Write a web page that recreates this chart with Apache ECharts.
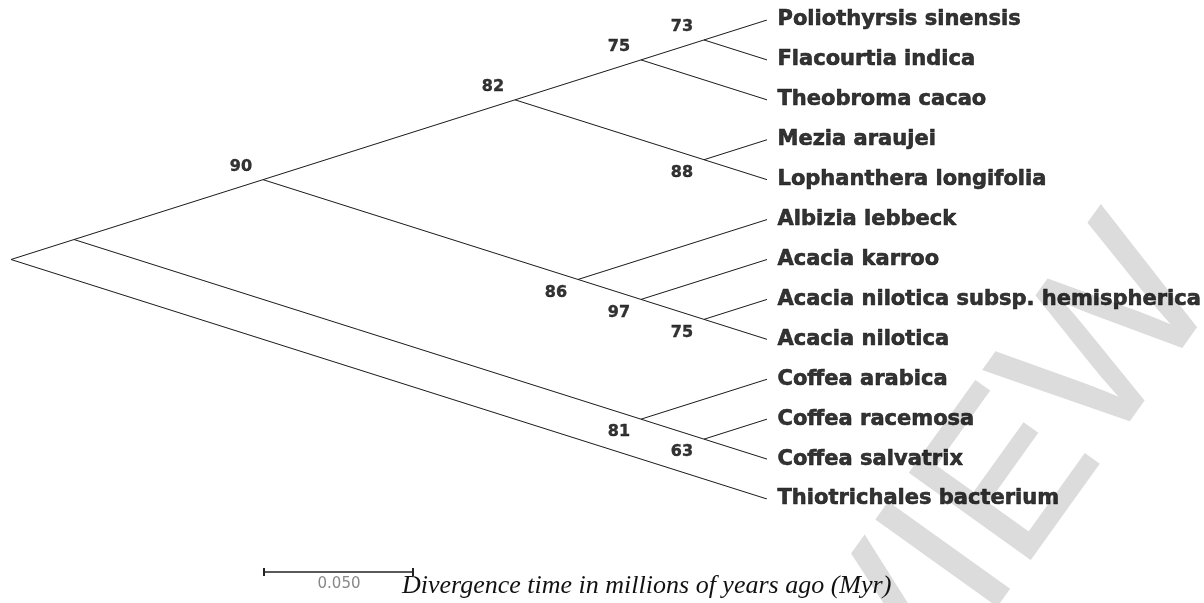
<!DOCTYPE html>
<html>
<head>
<meta charset="utf-8">
<title>Divergence tree</title>
<script src="https://cdn.jsdelivr.net/npm/echarts@6/dist/echarts.min.js"></script>
<style>
  html, body { margin: 0; padding: 0; background: #fff; }
  #main { width: 1204px; height: 603px; }
</style>
</head>
<body>
<div id="main"></div>
<script type="text/javascript">
// leaves, top to bottom (row = index)
var leafNames = [
    'Poliothyrsis sinensis',
    'Flacourtia indica',
    'Theobroma cacao',
    'Mezia araujei',
    'Lophanthera longifolia',
    'Albizia lebbeck',
    'Acacia karroo',
    'Acacia nilotica subsp. hemispherica',
    'Acacia nilotica',
    'Coffea arabica',
    'Coffea racemosa',
    'Coffea salvatrix',
    'Thiotrichales bacterium'
];
var leafParent = ['n73', 'n73', 'n75', 'n88', 'n88', 'n86', 'n97', 'n75b', 'n75b', 'n81', 'n63', 'n63', 'root'];
var leafDepth = 6;

// internal nodes: depth from root, row position, bootstrap support
var nodeIds     = ['root', 'nA', 'n90', 'n82', 'n75', 'n73', 'n88', 'n86', 'n97', 'n75b', 'n81', 'n63'];
var nodeParent  = [null, 'root', 'nA', 'n90', 'n82', 'n75', 'n82', 'n90', 'n86', 'n97', 'nA', 'n81'];
var nodeDepth   = [0, 0.5, 2, 4, 5, 5.5, 5.5, 4.5, 5, 5.5, 5, 5.5];
var nodeRow     = [6, 5.5, 4, 2, 1, 0.5, 3.5, 6.5, 7, 7.5, 10, 10.5];
var nodeSupport = ['', '', 90, 82, 75, 73, 88, 86, 97, 75, 81, 63];

// supports printed above their node (the rest sit below)
var supportAbove = ['n90', 'n82', 'n75', 'n73'];

var myChart = echarts.init(document.getElementById('main'));

var pos = {};
nodeIds.forEach(function (id, i) { pos[id] = [nodeDepth[i], nodeRow[i]]; });

var branches = [];
nodeIds.forEach(function (id, i) {
    if (nodeParent[i]) branches.push({ coords: [pos[nodeParent[i]], pos[id]] });
});
leafNames.forEach(function (name, i) {
    branches.push({ coords: [pos[leafParent[i]], [leafDepth, i]] });
});

var leafData = leafNames.map(function (name, i) {
    return { value: [leafDepth, i], name: name };
});

var supportData = [];
nodeIds.forEach(function (id, i) {
    if (nodeSupport[i] === '') return;
    var above = supportAbove.indexOf(id) >= 0;
    supportData.push({
        value: [nodeDepth[i], nodeRow[i]],
        name: String(nodeSupport[i]),
        label: { offset: [-22, above ? -13 : 13] }
    });
});

myChart.setOption({
    animation: false,
    backgroundColor: '#fff',
    grid: { left: 11, top: 20, width: 756, height: 479 },
    xAxis: { type: 'value', min: 0, max: 6, show: false },
    yAxis: { type: 'value', min: 0, max: 12, inverse: true, show: false },
    graphic: [
        {
            // faint watermark behind the tree
            type: 'text', z: -10, silent: true,
            x: 885, y: 660, rotation: 0.95,
            style: {
                x: 0, y: 0, text: 'PREVIEW', fill: '#dcdcdc',
                stroke: '#dcdcdc', lineWidth: 2, lineJoin: 'round',
                font: '215px "Liberation Sans"', align: 'center', verticalAlign: 'middle'
            }
        },
        {
            type: 'group', x: 264, y: 572, silent: true,
            children: [
                { type: 'line', shape: { x1: 0, y1: 0, x2: 149, y2: 0 }, style: { stroke: '#222', lineWidth: 1.5 } },
                { type: 'line', shape: { x1: 0, y1: -4, x2: 0, y2: 4 }, style: { stroke: '#222', lineWidth: 2 } },
                { type: 'line', shape: { x1: 149, y1: -4, x2: 149, y2: 4 }, style: { stroke: '#222', lineWidth: 2 } },
                {
                    type: 'text', x: 75, y: 12,
                    style: {
                        text: '0.050', fill: '#888', font: '15px "DejaVu Sans"',
                        align: 'center', verticalAlign: 'middle'
                    }
                }
            ]
        },
        {
            type: 'text', x: 402, y: 586, silent: true,
            style: {
                text: 'Divergence time in millions of years ago (Myr)', fill: '#111',
                font: 'italic 26px "Liberation Serif"', verticalAlign: 'middle'
            }
        }
    ],
    series: [
        {
            name: 'branches',
            type: 'lines',
            coordinateSystem: 'cartesian2d',
            z: 5,
            silent: true,
            lineStyle: { color: '#1a1a1a', width: 1, opacity: 1 },
            data: branches
        },
        {
            name: 'taxa',
            type: 'scatter',
            z: 6,
            silent: true,
            symbolSize: 1,
            itemStyle: { color: 'rgba(0,0,0,0)' },
            label: {
                show: true, position: 'right', distance: 10,
                formatter: '{b}', color: '#000',
                textBorderColor: '#000', textBorderWidth: 0.6,
                fontFamily: 'DejaVu Sans', fontWeight: 'bold', fontSize: 21
            },
            data: leafData
        },
        {
            name: 'support',
            type: 'scatter',
            z: 6,
            silent: true,
            symbolSize: 1,
            itemStyle: { color: 'rgba(0,0,0,0)' },
            label: {
                show: true, position: 'inside',
                formatter: '{b}', color: '#000',
                textBorderColor: '#000', textBorderWidth: 0.4,
                fontFamily: 'DejaVu Sans', fontWeight: 'bold', fontSize: 16
            },
            data: supportData
        }
    ]
});
</script>
</body>
</html>
